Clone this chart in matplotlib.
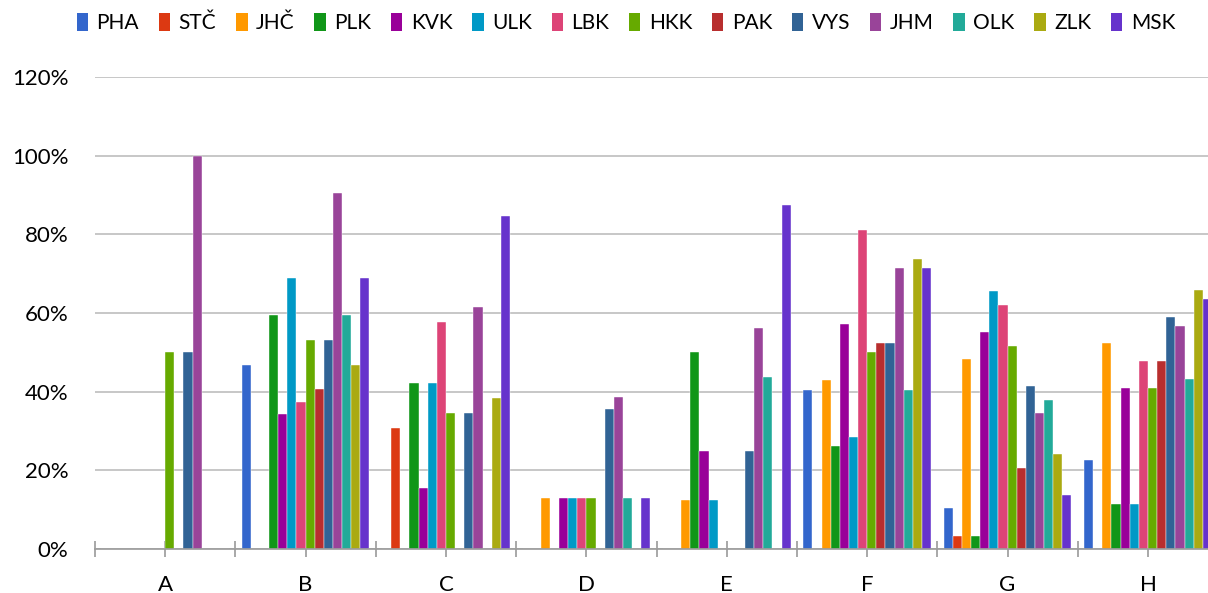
import numpy as np
import matplotlib.pyplot as plt
from matplotlib.patches import Patch

plt.rcParams['font.family'] = ['Lato', 'DejaVu Sans']

groups = ['A', 'B', 'C', 'D', 'E', 'F', 'G', 'H']
regions = ['PHA', 'STČ', 'JHČ', 'PLK', 'KVK', 'ULK', 'LBK',
           'HKK', 'PAK', 'VYS', 'JHM', 'OLK', 'ZLK', 'MSK']

# values in % per region, groups A..H
PHA = [0, 46.9, 0, 0, 0, 40.5, 10.3, 22.7]
STC = [0, 0, 30.8, 0, 0, 0, 3.4, 0]
JHC = [0, 0, 0, 12.9, 12.5, 42.9, 48.3, 52.3]
PLK = [0, 59.4, 42.3, 0, 50.0, 26.2, 3.4, 11.4]
KVK = [0, 34.4, 15.4, 12.9, 25.0, 57.1, 55.2, 40.9]
ULK = [0, 68.8, 42.3, 12.9, 12.5, 28.6, 65.5, 11.4]
LBK = [0, 37.5, 57.7, 12.9, 0, 81.0, 62.1, 47.7]
HKK = [50, 53.1, 34.6, 12.9, 0, 50.0, 51.7, 40.9]
PAK = [0, 40.6, 0, 0, 0, 52.4, 20.7, 47.7]
VYS = [50, 53.1, 34.6, 35.5, 25.0, 52.4, 41.4, 59.1]
JHM = [100, 90.6, 61.5, 38.7, 56.3, 71.4, 34.5, 56.8]
OLK = [0, 59.4, 0, 12.9, 43.8, 40.5, 37.9, 43.2]
ZLK = [0, 46.9, 38.5, 0, 0, 73.8, 24.1, 65.9]
MSK = [0, 68.8, 84.6, 12.9, 87.5, 71.4, 13.8, 63.6]

series = [PHA, STC, JHC, PLK, KVK, ULK, LBK, HKK, PAK, VYS, JHM, OLK, ZLK, MSK]
colors = ['#3366cc', '#dc3912', '#ff9900', '#109618', '#990099', '#0099c6',
          '#dd4477', '#66aa00', '#b82e2e', '#316395', '#994499', '#22aa99',
          '#aaaa11', '#6633cc']

W, H = 1208, 593
fig = plt.figure(figsize=(W / 100, H / 100), dpi=100)
ax = fig.add_axes([95 / W, 44 / H, (8 * 140.4) / W, 472 / H])

n = len(series)
bw = 0.91 / n
x = np.arange(len(groups))
for i, (vals, c) in enumerate(zip(series, colors)):
    ax.bar(x - 0.455 + bw * (i + 0.5), vals, bw, color=c,
           edgecolor='white', linewidth=0.3, zorder=3)

ax.set_xlim(-0.5, 7.5)
ax.set_ylim(0, 120)
ax.set_yticks(np.arange(0, 121, 20))
ax.set_yticklabels([f'{v}%' for v in range(0, 121, 20)], fontsize=16)
ax.yaxis.grid(True, color='#bdbdbd', linewidth=1.2, zorder=0)
ax.tick_params(axis='y', length=0, pad=19)

ax.set_xticks(np.arange(-0.5, 7.6, 0.5))
ax.set_xticklabels([''] * 17)
ax.tick_params(axis='x', direction='inout', length=11.5, width=1.2, color='#999999')
for xi, g in zip(x, groups):
    ax.text(xi, -9.2, g, ha='center', va='center', fontsize=16)

for s in ['top', 'right', 'left']:
    ax.spines[s].set_visible(False)
ax.spines['bottom'].set_color('#999999')
ax.spines['bottom'].set_linewidth(1.2)
ax.spines['bottom'].set_zorder(4)

handles = [Patch(facecolor=c) for c in colors]
fig.legend(handles, regions, loc='center', bbox_to_anchor=(626 / W, 1 - 23 / H),
           ncol=n, frameon=False, fontsize=15, handlelength=0.55, handleheight=0.95,
           handletextpad=0.4, columnspacing=0.95, borderaxespad=0)

fig.savefig('out.png', dpi=100)
